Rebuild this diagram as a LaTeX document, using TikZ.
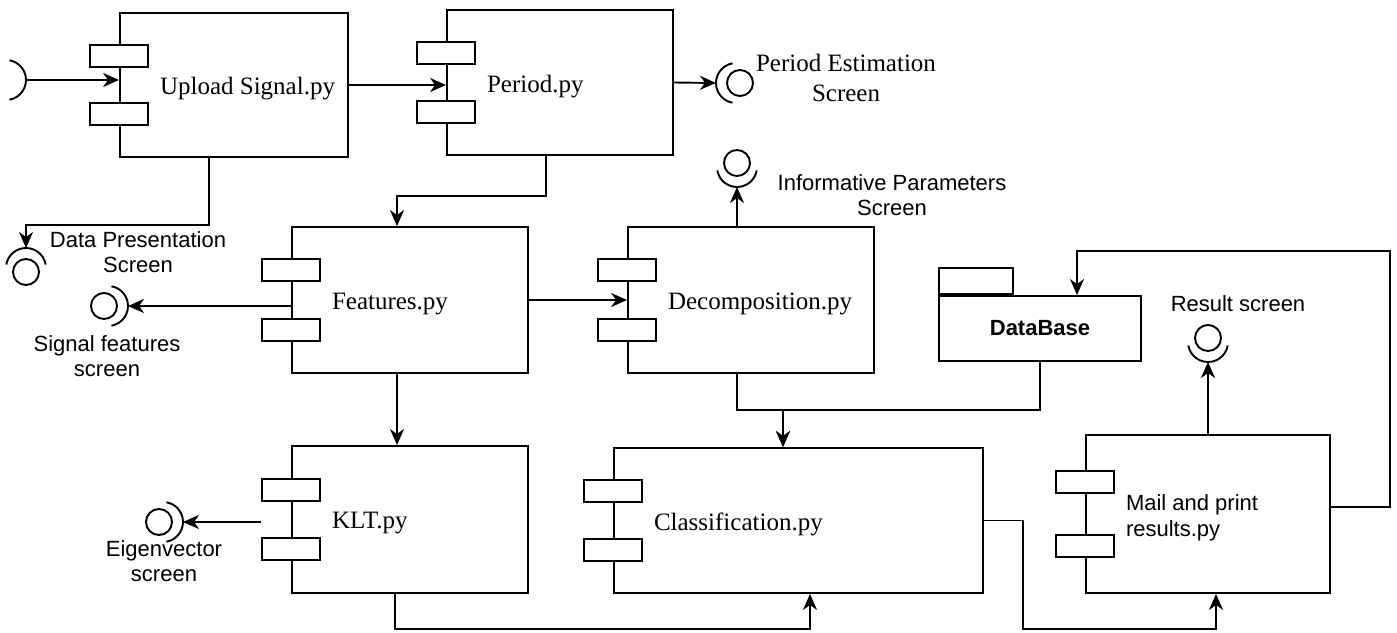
\documentclass[tikz,border=0pt]{standalone}
\usepackage{fontspec}
\setmainfont{Liberation Serif}
\setsansfont{Liberation Sans}
\usetikzlibrary{arrows.meta,calc,positioning}

% component box with its two tabs: [text style]{name}{x}{y}{width}{height}{text}
\newcommand{\compbox}[7][comptext]{%
  \node[compbody,minimum width=#5*0.5pt,minimum height=#6*0.5pt] (#2) at (#3,#4) {};
  \node[comptab] (#2-a) at ($(#2.north west)!0.3!(#2.south west)$) {};
  \node[comptab] (#2-b) at ($(#2.north west)!0.7!(#2.south west)$) {};
  \node[#1] (#2-txt) at ([xshift=20pt,yshift=-2pt]#2.west) {#7};
}
% socket arc round a named point, opened away from the side it faces
\newcommand{\socketarc}[2]{%
  \coordinate (#1-in) at ($(#1.center)+(#2:12pt)$);
  \draw ($(#1.center)+(#2:2pt)$) ++({#2-80}:10pt) arc[start angle={#2-80},end angle={#2+80},radius=10pt];
}
\newcommand{\socket}[4]{%
  \node[ball] (#1) at (#2,#3) {};
  \socketarc{#1}{#4}
}

\begin{document}
\begin{tikzpicture}[x=0.5pt,y=0.5pt,line width=0.95pt,>={Stealth[length=8pt,width=7pt,inset=2.5pt]},
  compbody/.style={draw,rectangle,inner sep=0pt},
  comptab/.style={draw,fill=white,minimum width=29pt,minimum height=11pt,inner sep=0pt},
  comptext/.style={anchor=west,inner sep=0pt,font=\fontsize{12.5}{15}\selectfont},
  compsans/.style={anchor=west,inner sep=0pt,align=left,font=\sffamily\fontsize{11}{13}\selectfont},
  ball/.style={draw,circle,minimum size=13pt,inner sep=0pt},
  scrlabel/.style={align=center,inner sep=0pt,font=\sffamily\fontsize{11}{12.5}\selectfont},
  scrserif/.style={align=center,inner sep=0pt,font=\fontsize{12.5}{15}\selectfont},
  dbbody/.style={draw,minimum width=101pt,minimum height=32.5pt,inner sep=0pt,font=\sffamily\bfseries\fontsize{11}{13}\selectfont},
  dbtab/.style={draw,minimum width=37pt,minimum height=13pt,inner sep=0pt}]
\useasboundingbox (0,0) rectangle (1397,-632);
% components
\compbox{upload}{234}{-85}{228}{144}{Upload Signal.py}
\compbox{period}{560}{-82.5}{226}{145}{Period.py}
\compbox{features}{410}{-300}{236}{146}{Features.py}
\compbox{decomp}{751}{-300}{246}{146}{Decomposition.py}
\compbox{klt}{410}{-519.5}{236}{147}{KLT.py}
\compbox{class}{798.5}{-520.5}{369}{145}{Classification.py}
\compbox[compsans]{mail}{1208}{-514}{244}{158}{Mail and print\\results.py}
% database package
\node[dbbody] (db) at (1040,-328.5) {DataBase};
\node[dbtab,anchor=south west] (db-tab) at (db.north west) {};
% screens
\coordinate (src) at (2,-80);
\socketarc{src}{0}
\socket{perscr}{740}{-83}{180}
\socket{datascr}{26}{-272}{90}
\socket{infoscr}{737}{-163}{270}
\socket{sigscr}{104}{-306}{0}
\socket{eigscr}{159}{-522}{0}
\socket{resscr}{1208}{-338}{270}
\node[scrserif] (perscr-txt) at (846,-78) {Period Estimation\\Screen};
\node[scrlabel] (datascr-txt) at (138,-252) {Data Presentation\\Screen};
\node[scrlabel] (infoscr-txt) at (892,-195) {Informative Parameters\\Screen};
\node[scrlabel] (sigscr-txt) at (107,-356) {Signal features\\screen};
\node[scrlabel] (eigscr-txt) at (164,-561) {Eigenvector\\screen};
\node[scrlabel] (resscr-txt) at (1238,-304) {Result screen};
% connectors
\draw[->] (src-in) -- (src-in -| upload.west);
\draw[->] (upload.east) -- (upload.east -| period.west);
\draw[->] (period.east) -- (perscr-in);
\draw[->] ([xshift=-12.5pt]upload.south) -- ++(0,-67) -| (datascr-in);
\draw[->] ([xshift=-7pt]period.south) -- ++(0,-40) -| ([xshift=-6.5pt]features.north);
\draw[->] (sigscr-in -| features.west) -- (sigscr-in);
\draw[->] (features.east) -- (features.east -| decomp.west);
\draw[->] (infoscr |- decomp.north) -- (infoscr-in);
\draw[->] ([xshift=-6.5pt]features.south) -- ([xshift=-6.5pt]klt.north);
\draw[->] (eigscr-in -| klt-a.west) -- (eigscr-in);
\coordinate (merge) at (783,-410);
\draw[->] (infoscr |- decomp.south) |- (merge) -- (merge |- class.north);
\draw[->] (db.south) |- (merge) -- (merge |- class.north);
\draw[->] ([xshift=-7.5pt]klt.south) -- ++(0,-35) -| ([xshift=5.75pt]class.south);
\draw[->] (class.east) -- ++(39,0) -- ++(0,-108.5) -| ([xshift=4pt]mail.south);
\draw[->] (mail.north) -- (resscr-in);
\draw[->] ([yshift=3.5pt]mail.east) -- ++(59,0) |- ($(db.north)+(37,44)$) -- ([xshift=18.5pt]db.north);
\end{tikzpicture}
\end{document}
